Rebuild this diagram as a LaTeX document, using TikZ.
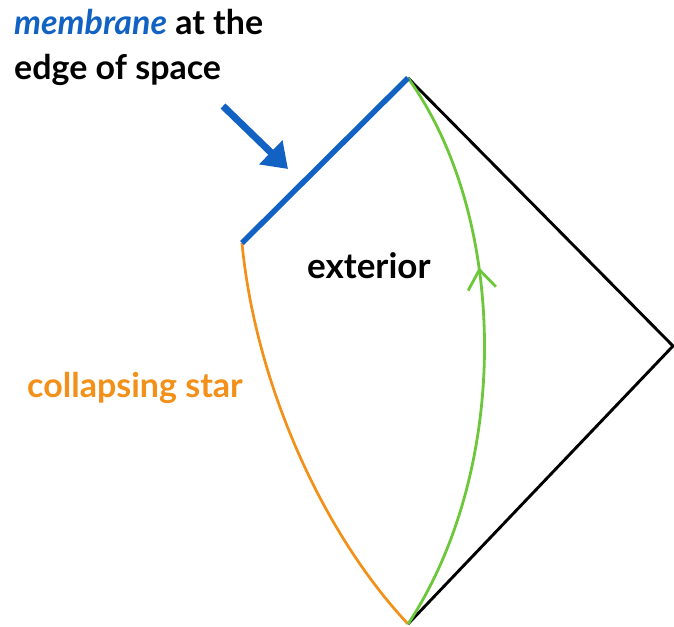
\documentclass[tikz,border=0pt]{standalone}
\usepackage{fontspec}
\setmainfont{Lato}
\usetikzlibrary{arrows.meta,decorations.markings}
\definecolor{memblue}{HTML}{1262C4}
\definecolor{starorange}{HTML}{F39019}
\definecolor{geogreen}{HTML}{6CC83A}
\tikzset{
  lbl/.style={font=\fontsize{34}{38}\selectfont\bfseries, inner sep=0pt, anchor=base west},
  edge/.style={line width=2.9pt, black},
}
\begin{document}
\begin{tikzpicture}[x=1pt,y=-1pt]
\useasboundingbox (0,0) rectangle (674,626);
\coordinate (top) at (408,78);
\coordinate (right) at (673,346);
\coordinate (bot) at (408,624);
\coordinate (mem) at (242,243);
\coordinate (arrS) at (223,106);
\coordinate (arrE) at (288,169);
% black light cone edges
\draw[edge, line join=miter] (top) -- (right) -- (bot);
% orange star surface
\draw[starorange, line width=2.7pt] (mem) .. controls (255,380) and (320,530) .. (bot);
% green worldline
\draw[geogreen, line width=2.8pt,
  decoration={markings, mark=at position 0.645 with {\arrow{Straight Barb[length=19pt,width=28pt,line width=2.8pt]}}},
  postaction={decorate}] (bot) .. controls (510,470) and (510,220) .. (top);
% membrane
\draw[memblue, line width=5.5pt] (mem) -- (top);
% pointer arrow
\draw[memblue, line width=7pt, -{Triangle[length=24pt,width=32pt]}] (arrS) -- (arrE);
% labels
\node[lbl] (t1) at (14,35) {\textcolor{memblue}{\itshape membrane} at the};
\node[lbl] (t2) at (14,79) {edge of space};
\node[lbl, font=\fontsize{35}{40}\selectfont\bfseries] (ext) at (307,278) {exterior};
\node[lbl, text=starorange] (cs) at (27,397) {collapsing star};
\end{tikzpicture}
\end{document}
